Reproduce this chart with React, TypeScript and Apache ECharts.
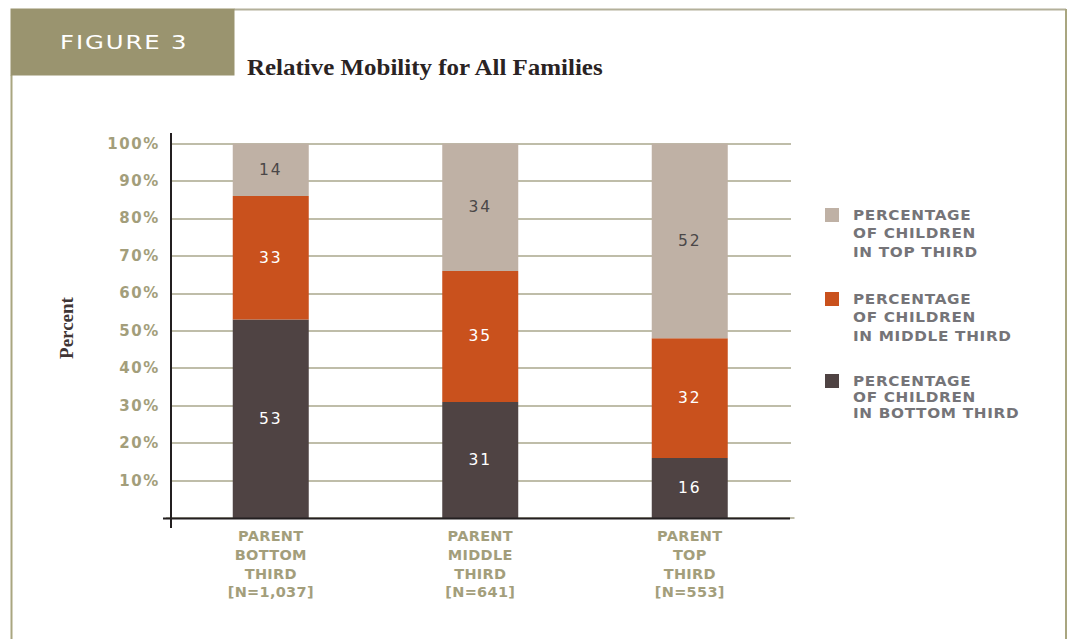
import React, { useEffect, useRef } from "react";
import * as echarts from "echarts";

const categories = [
  "PARENT\nBOTTOM\nTHIRD\n[N=1,037]",
  "PARENT\nMIDDLE\nTHIRD\n[N=641]",
  "PARENT\nTOP\nTHIRD\n[N=553]",
];
const bottomThird = [53, 31, 16];
const middleThird = [33, 35, 32];
const topThird = [14, 34, 52];
const legendLabels = [
  ["PERCENTAGE", "OF CHILDREN", "IN TOP THIRD"],
  ["PERCENTAGE", "OF CHILDREN", "IN MIDDLE THIRD"],
  ["PERCENTAGE", "OF CHILDREN", "IN BOTTOM THIRD"],
];
const colors = { top: "#bfb1a5", middle: "#c9511d", bottom: "#4f4343" };

const css = `
#fig3 svg text[style*="15px"] { letter-spacing: 1.6px; }
#fig3 svg text[style*="15.5px"] { letter-spacing: 2px; }
#fig3 svg text[style*="13.5px"] { letter-spacing: 0.6px; }
#fig3 svg text[style*="19.5px"] { letter-spacing: 1.5px; }
#fig3 svg text[style*="14.5px"] { letter-spacing: 0.3px; }
`;

export default function App() {
  const ref = useRef<HTMLDivElement>(null);
  useEffect(() => {
    document.body.style.margin = "0";
    const chart = echarts.init(ref.current!, null, { renderer: "svg" });
    const olive = "#a39e7b";
    const wide = "DejaVu Sans";
    const mkSeries = (name: string, data: number[], color: string, labelColor: string) => ({
      name,
      type: "bar",
      stack: "total",
      data,
      barWidth: 76,
      itemStyle: { color },
      label: {
        show: true,
        position: "inside",
        color: labelColor,
        fontFamily: wide,
        fontSize: 15.5,
      },
    });
    const legendGraphics: any[] = [];
    const legendColors = [colors.top, colors.middle, colors.bottom];
    const legendTops = [208, 292, 374];
    const legendSpacing = [18.5, 18.5, 16];
    legendLabels.forEach((lines, i) => {
      legendGraphics.push({
        type: "rect",
        shape: { x: 825, y: legendTops[i], width: 14, height: 14 },
        style: { fill: legendColors[i] },
      });
      lines.forEach((t, j) => {
        legendGraphics.push({
          type: "text",
          x: 853,
          y: legendTops[i] + 7 + j * legendSpacing[i],
          scaleX: 1.13,
          style: {
            text: t,
            fill: "#757478",
            font: `bold 13.5px "${wide}"`,
            verticalAlign: "middle",
          },
        });
      });
    });
    chart.setOption({
      animation: false,
      backgroundColor: "#ffffff",
      grid: { left: 166, top: 143.6, width: 628.5, height: 374.4, containLabel: false },
      xAxis: {
        type: "category",
        data: categories,
        axisLine: { show: false },
        axisTick: { show: false },
        axisLabel: {
          color: olive,
          fontFamily: wide,
          fontWeight: "bold",
          fontSize: 14.5,
          lineHeight: 18.7,
          margin: 9,
        },
      },
      yAxis: {
        type: "value",
        min: 0,
        max: 100,
        interval: 10,
        axisLine: { show: false },
        axisTick: { show: false },
        splitLine: { lineStyle: { color: "#aaa78d", width: 1.5 } },
        axisLabel: {
          formatter: (v: number) => (v === 0 ? "" : v + "%"),
          color: olive,
          fontFamily: wide,
          fontWeight: "bold",
          fontSize: 15,
          margin: 6,
        },
      },
      series: [
        mkSeries("Bottom third", bottomThird, colors.bottom, "#ffffff"),
        mkSeries("Middle third", middleThird, colors.middle, "#ffffff"),
        mkSeries("Top third", topThird, colors.top, "#4a4748"),
      ],
      graphic: [
        // mask grid-line stubs outside the plotted range
        {
          type: "rect",
          shape: { x: 163, y: 135, width: 7, height: 378 },
          style: { fill: "#ffffff" },
          z: 5,
        },
        {
          type: "rect",
          shape: { x: 791, y: 135, width: 8, height: 378 },
          style: { fill: "#ffffff" },
          z: 5,
        },
        // frame
        {
          type: "line",
          shape: { x1: 234, y1: 9.5, x2: 1066, y2: 9.5 },
          style: { stroke: "#b3b09a", lineWidth: 2 },
        },
        {
          type: "line",
          shape: { x1: 1066, y1: 9, x2: 1066, y2: 639 },
          style: { stroke: "#a9a680", lineWidth: 2 },
        },
        {
          type: "line",
          shape: { x1: 11.5, y1: 75, x2: 11.5, y2: 639 },
          style: { stroke: "#a9a680", lineWidth: 2 },
        },
        {
          type: "rect",
          shape: { x: 10.5, y: 8.5, width: 224, height: 67 },
          style: { fill: "#9a946f" },
        },
        {
          type: "text",
          x: 60,
          y: 42,
          scaleX: 1.25,
          style: {
            text: "FIGURE 3",
            fill: "#ffffff",
            font: `19.5px "${wide}"`,
            verticalAlign: "middle",
          },
        },
        {
          type: "text",
          x: 247,
          y: 67,
          scaleX: 1.04,
          style: {
            text: "Relative Mobility for All Families",
            fill: "#2a2323",
            font: `bold 24px "Liberation Serif"`,
            verticalAlign: "middle",
          },
        },
        {
          type: "text",
          x: 66,
          y: 328,
          rotation: Math.PI / 2,
          style: {
            text: "Percent",
            fill: "#3f3535",
            font: `bold 19px "Liberation Serif"`,
            align: "center",
            verticalAlign: "middle",
          },
        },
        // axes
        {
          type: "line",
          shape: { x1: 171, y1: 133, x2: 171, y2: 528 },
          style: { stroke: "#231f20", lineWidth: 2 },
          z: 10,
        },
        {
          type: "line",
          shape: { x1: 163, y1: 518.5, x2: 790, y2: 518.5 },
          style: { stroke: "#231f20", lineWidth: 2 },
          z: 10,
        },
        ...legendGraphics,
      ],
    });
    return () => chart.dispose();
  }, []);
  return (
    <div id="fig3">
      <style>{css}</style>
      <div ref={ref} style={{ width: 1068, height: 639 }} />
    </div>
  );
}
